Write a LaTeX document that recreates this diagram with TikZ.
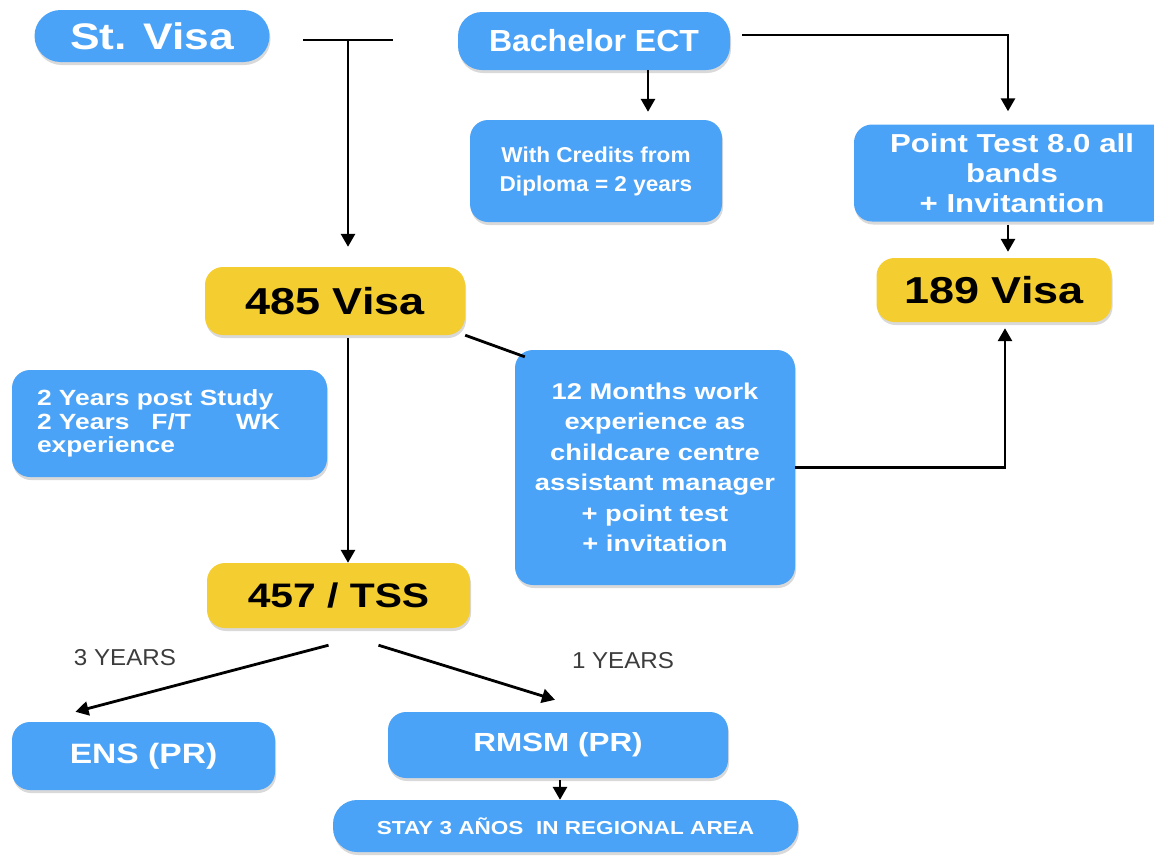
\documentclass[tikz,border=0pt]{standalone}
\usepackage{fontspec}
\setmainfont{Liberation Sans}
\newfontfamily\fw{Liberation Sans}[FakeStretch=1.2]
\newfontfamily\fm{Liberation Sans}[FakeStretch=1.05]
\usetikzlibrary{arrows.meta,shadows}
\definecolor{boxblue}{RGB}{74,163,247}
\definecolor{boxyellow}{RGB}{244,205,48}
\definecolor{labgray}{RGB}{60,60,60}
\tikzset{
  box/.style={rounded corners=18pt, fill=boxblue, text=white, align=center, inner sep=0pt,
    drop shadow={shadow xshift=1pt, shadow yshift=-3pt, opacity=0.3}},
  ybox/.style={box, fill=boxyellow, text=black},
  arr/.style={line width=2.8pt, -{Triangle[length=13pt,width=14pt]}},
  ln/.style={line width=2.8pt},
  lab/.style={text=labgray, font=\fm\fontsize{23pt}{27pt}\selectfont, inner sep=0pt}
}
\begin{document}
\begin{tikzpicture}[x=1pt,y=-1pt]
\useasboundingbox (0,0) rectangle (1154,855);

% nodes
\node[box, rounded corners=26pt, minimum width=235pt, minimum height=52pt,
  font=\fw\bfseries\fontsize{37pt}{42pt}\selectfont] (stv) at (152,36) {St. Visa};
\node[box, rounded corners=24pt, minimum width=272pt, minimum height=58pt,
  font=\fm\bfseries\fontsize{30.5pt}{34pt}\selectfont] (bach) at (594,41) {Bachelor ECT};
\node[box, minimum width=252pt, minimum height=102pt,
  font=\fm\bfseries\fontsize{21.5pt}{29pt}\selectfont] (cred) at (596,171)
  {With Credits from\\Diploma = 2 years};
\node[box, minimum width=316pt, minimum height=97pt,
  font=\fw\bfseries\fontsize{26pt}{30pt}\selectfont] (pt) at (1012,173)
  {Point Test 8.0 all\\bands\\+ Invitantion};
\node[ybox, minimum width=235pt, minimum height=64pt,
  font=\fw\bfseries\fontsize{37.5pt}{42pt}\selectfont] (v189) at (994,290) {189 Visa};
\node[ybox, minimum width=260pt, minimum height=68pt,
  font=\fw\bfseries\fontsize{37.5pt}{42pt}\selectfont] (v485) at (335,301) {485 Visa};
\node[box, minimum width=315pt, minimum height=107pt, text width=265pt, align=left,
  font=\fw\bfseries\fontsize{22pt}{23.5pt}\selectfont] (twoyr) at (169.5,423.5)
  {2 Years post Study\\\makebox[243pt][l]{2 Years\quad F/T\hfill WK}\\experience};
\node[box, minimum width=280pt, minimum height=235pt,
  font=\fw\bfseries\fontsize{22.8pt}{30.5pt}\selectfont] (twelve) at (655,467.5)
  {12 Months work\\experience as\\childcare centre\\assistant manager\\+ point test\\+ invitation};
\node[ybox, minimum width=263pt, minimum height=65pt,
  font=\fw\bfseries\fontsize{34pt}{38pt}\selectfont] (tss) at (338.5,595.5) {457 / TSS};
\node[box, minimum width=263pt, minimum height=68pt,
  font=\fw\bfseries\fontsize{28pt}{32pt}\selectfont] (ens) at (143.5,756) {ENS (PR)};
\node[box, minimum width=340pt, minimum height=66pt,
  font=\fw\bfseries\fontsize{26.2pt}{30pt}\selectfont] (rmsm) at (558,745) {RMSM (PR)};
\node[box, rounded corners=24pt, minimum width=465pt, minimum height=52pt,
  font=\fw\bfseries\fontsize{18.8pt}{22pt}\selectfont] (stay) at (565.5,826)
  {STAY 3 AÑOS \ IN REGIONAL AREA};

% labels
\node[lab] (l3) at (125,658) {3 YEARS};
\node[lab] (l1) at (623,661) {1 YEARS};

% helper coordinates
\coordinate (tL) at (303,40);
\coordinate (tR) at (393,40);
\coordinate (tM) at (348,40);
\coordinate (pc) at (648,0);
\coordinate (pin) at (1008,0);
\coordinate (pin2) at (1005,0);
\coordinate (pin3) at (560,0);

% connectors
\draw[ln] (tL) -- (tR);
\draw[arr, shorten >=20pt] (tM) -- (tM |- v485.north);
\draw[arr, shorten >=8pt] (bach.south -| pc) -- (cred.north -| pc);
\draw[arr, shorten <=12pt, shorten >=13pt] ([yshift=6pt]bach.east) -| (pt.north -| pin);
\draw[arr, shorten <=3pt, shorten >=6pt] (pt.south -| pin) -- (v189.north -| pin);
\draw[ln] (v485.south east) -- ([xshift=10pt,yshift=-7pt]twelve.north west);
\draw[arr, shorten <=3pt] (v485.south -| tM) -- (tss.north -| tM);
\draw[arr, shorten >=6pt] (twelve.east) -| (v189.south -| pin2);
\draw[arr] ([shift={(-10pt,-17pt)}]tss.south) -- ([shift={(-68pt,10pt)}]ens.north);
\draw[arr] ([shift={(40pt,-17pt)}]tss.south) -- ([shift={(-3pt,12pt)}]rmsm.north);
\draw[arr, shorten <=2pt] (rmsm.south -| pin3) -- (stay.north -| pin3);
\end{tikzpicture}
\end{document}
